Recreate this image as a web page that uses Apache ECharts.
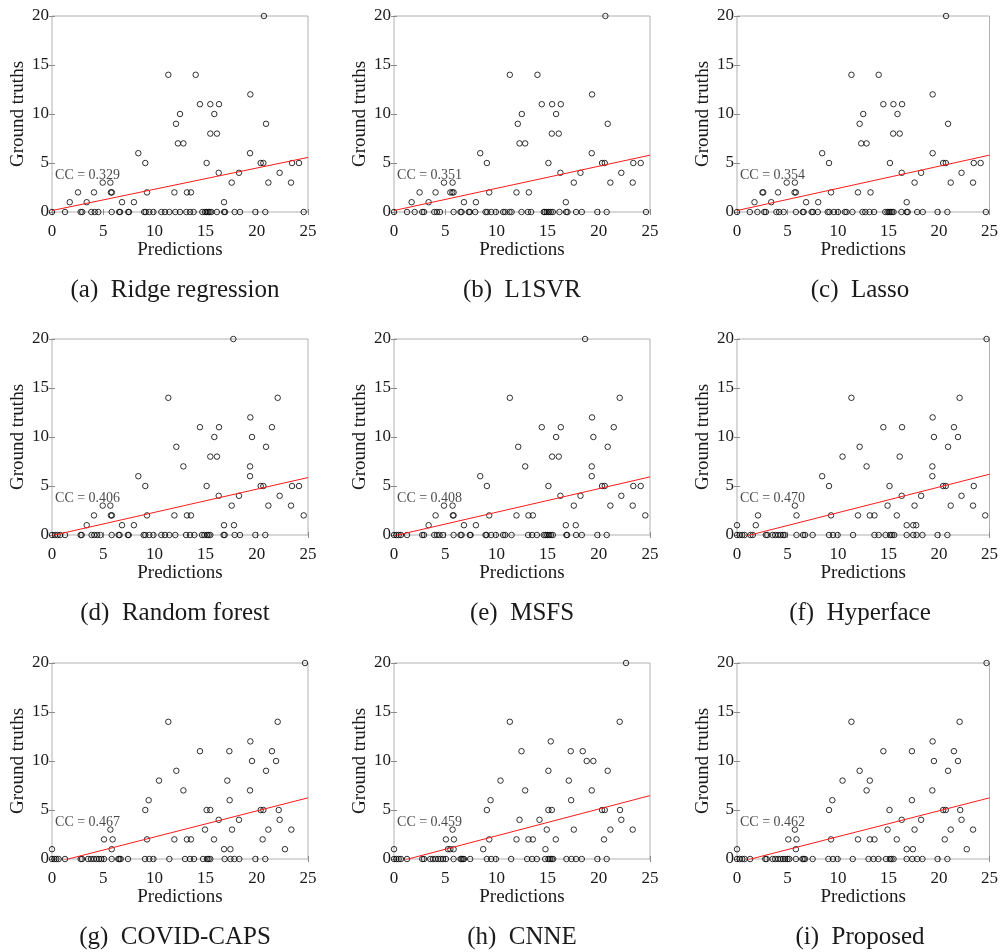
<!DOCTYPE html>
<html>
<head>
<meta charset="utf-8">
<script src="https://cdn.jsdelivr.net/npm/echarts@6/dist/echarts.min.js"></script>
<style>
  html, body { margin: 0; padding: 0; background: #fff; }
  #chart { width: 1001px; height: 952px; }
</style>
</head>
<body>
<div id="chart"></div>
<script>
// [prediction, ground truth] pairs with truth > 0, then the predictions whose truth is 0
const ridgePoints = [[20.7,20],[11.36,14],[14.03,14],[19.37,12],[14.45,11],[15.46,11],[16.31,11],[12.5,10],[15.85,10],[12.11,9],[20.9,9],[15.46,8],[16.11,8],[12.3,7],[12.83,7],[8.43,6],[19.34,6],[9.11,5],[15.1,5],[20.38,5],[20.64,5],[23.44,5],[24.12,5],[16.28,4],[18.26,4],[22.23,4],[4.95,3],[5.7,3],[17.55,3],[21.13,3],[23.34,3],[2.54,2],[4.1,2],[5.75,2],[5.85,2],[9.28,2],[11.95,2],[13.18,2],[13.57,2],[1.73,1],[3.39,1],[6.84,1],[8.0,1],[16.8,1]]
const ridgeZeros = [0,1.27,2.8,2.95,3.84,4.17,4.52,5.83,6.56,6.65,7.45,7.52,9.0,9.15,9.5,9.9,10.68,11.03,11.46,12.04,12.5,13.12,13.48,13.83,14.68,14.94,15.1,15.25,15.4,15.55,16.1,16.8,16.9,17.84,18.36,19.86,20.83,24.58]

const l1svrPoints = [[20.64,20],[11.31,14],[14.01,14],[19.34,12],[14.43,11],[15.44,11],[16.29,11],[12.48,10],[15.83,10],[12.09,9],[20.87,9],[15.41,8],[16.09,8],[12.26,7],[12.81,7],[8.42,6],[19.31,6],[9.07,5],[15.08,5],[20.32,5],[20.58,5],[23.37,5],[24.09,5],[16.25,4],[18.21,4],[22.2,4],[4.88,3],[5.72,3],[17.56,3],[21.13,3],[23.31,3],[2.5,2],[4.06,2],[5.5,2],[5.69,2],[5.82,2],[9.3,2],[11.96,2],[13.17,2],[1.72,1],[3.38,1],[6.83,1],[8.0,1],[16.78,1]]
const l1svrZeros = [0,1.27,2.02,2.76,2.93,3.93,4.19,4.49,5.82,6.5,6.6,7.31,7.41,7.93,8.94,9.1,9.49,9.95,10.66,10.86,11.28,11.48,12.45,13.07,13.39,14.63,14.73,14.92,15.12,15.31,15.51,16.16,16.81,16.94,17.78,18.34,19.86,20.77,24.61]

const lassoPoints = [[20.7,20],[11.33,14],[14.03,14],[19.37,12],[14.49,11],[15.49,11],[16.34,11],[12.5,10],[15.89,10],[12.14,9],[20.9,9],[15.46,8],[16.11,8],[12.3,7],[12.83,7],[8.43,6],[19.37,6],[9.11,5],[15.14,5],[20.41,5],[20.67,5],[23.44,5],[24.12,5],[16.31,4],[18.23,4],[22.23,4],[4.92,3],[5.73,3],[17.58,3],[21.16,3],[23.37,3],[2.52,2],[2.6,2],[4.07,2],[5.7,2],[5.83,2],[9.31,2],[11.98,2],[13.22,2],[1.73,1],[3.39,1],[6.84,1],[8.04,1],[16.8,1]]
const lassoZeros = [0,1.27,2.02,2.7,2.86,3.9,4.17,4.62,5.83,6.51,6.6,7.39,7.52,8.0,8.98,9.15,9.6,10.0,10.68,10.84,11.43,12.43,12.7,13.12,13.57,14.68,14.9,15.05,15.2,15.35,15.5,16.28,16.8,16.9,17.84,18.39,19.86,20.83,24.64]

const forestPoints = [[17.71,20],[11.36,14],[22.04,14],[19.37,12],[14.45,11],[16.31,11],[21.48,11],[15.85,10],[19.53,10],[12.14,9],[20.9,9],[15.46,8],[16.11,8],[12.83,7],[19.34,7],[8.43,6],[19.34,6],[9.11,5],[15.1,5],[20.38,5],[20.64,5],[23.44,5],[24.12,5],[16.28,4],[18.26,4],[22.23,4],[4.95,3],[5.7,3],[17.55,3],[21.13,3],[23.34,3],[4.1,2],[5.75,2],[5.85,2],[9.28,2],[11.95,2],[13.18,2],[13.57,2],[24.58,2],[3.39,1],[6.84,1],[8.0,1],[16.8,1],[17.77,1]]
const forestZeros = [0,0.3,0.55,0.8,1.27,2.8,2.9,3.87,4.13,4.4,4.72,5.83,6.51,6.6,7.42,7.49,8.95,9.11,9.5,9.9,10.68,11.03,11.46,12.04,13.09,13.48,13.9,14.65,14.88,15.14,15.3,15.46,16.76,16.86,17.84,18.36,19.86,20.83]

const msfsPoints = [[18.66,20],[11.31,14],[22.04,14],[19.34,12],[14.43,11],[16.29,11],[21.46,11],[15.83,10],[19.47,10],[12.13,9],[20.87,9],[15.44,8],[16.09,8],[12.81,7],[19.31,7],[8.42,6],[19.31,6],[9.07,5],[15.08,5],[20.32,5],[20.58,5],[23.37,5],[24.09,5],[16.25,4],[18.21,4],[22.2,4],[4.88,3],[5.72,3],[17.56,3],[21.13,3],[23.31,3],[4.06,2],[5.75,2],[5.82,2],[9.3,2],[11.96,2],[13.13,2],[13.56,2],[24.54,2],[3.38,1],[6.83,1],[8.0,1],[16.78,1],[17.75,1]]
const msfsZeros = [0,0.23,0.46,0.68,1.27,2.76,2.93,3.93,4.19,4.45,4.78,5.82,6.5,6.6,7.41,7.48,8.94,9.04,9.49,9.95,10.66,10.86,11.48,13.1,13.49,13.95,14.63,14.79,14.97,15.15,15.33,15.51,16.84,16.9,17.78,18.34,19.86,20.77]

const hyperPoints = [[24.71,20],[11.33,14],[22.04,14],[19.37,12],[14.49,11],[16.34,11],[21.48,11],[19.5,10],[21.88,10],[12.14,9],[20.9,9],[10.45,8],[16.11,8],[12.83,7],[19.34,7],[8.43,6],[19.34,6],[9.11,5],[15.1,5],[20.41,5],[20.67,5],[23.44,5],[16.31,4],[18.23,4],[22.23,4],[5.73,3],[14.91,3],[17.58,3],[21.16,3],[23.37,3],[2.08,2],[5.89,2],[9.31,2],[11.98,2],[13.15,2],[13.61,2],[15.82,2],[24.58,2],[0,1],[1.86,1],[16.8,1],[17.45,1],[17.74,1]]
const hyperZeros = [0,0.26,0.52,0.75,1.33,1.56,2.86,3.0,3.52,3.78,4.07,4.33,4.56,4.72,5.89,6.54,6.74,7.49,9.11,9.5,9.96,11.49,13.61,14.03,14.71,15.17,15.36,15.56,16.8,17.45,17.77,18.36,19.86,20.83]

const capsPoints = [[24.71,20],[11.36,14],[22.04,14],[19.37,12],[14.45,11],[17.32,11],[21.48,11],[19.53,10],[21.88,10],[12.14,9],[20.9,9],[10.45,8],[17.12,8],[12.83,7],[19.34,7],[9.44,6],[17.35,6],[9.11,5],[15.1,5],[15.46,5],[20.38,5],[20.64,5],[22.14,5],[16.28,4],[18.26,4],[22.23,4],[5.7,3],[14.94,3],[17.58,3],[21.13,3],[23.37,3],[5.08,2],[5.92,2],[9.28,2],[11.95,2],[13.18,2],[13.57,2],[15.82,2],[20.57,2],[0,1],[5.83,1],[16.8,1],[17.42,1],[22.75,1]]
const capsZeros = [0,0.23,0.42,0.65,1.27,2.8,2.93,3.52,3.81,4.1,4.36,4.59,4.82,5.08,5.83,6.48,6.58,6.71,7.42,9.08,9.5,9.9,11.46,12.99,13.48,13.87,14.75,15.14,15.3,15.46,16.86,17.42,17.81,18.29,19.86,20.83]

const cnnePoints = [[22.66,20],[11.31,14],[22.04,14],[15.31,12],[12.45,11],[17.26,11],[18.43,11],[18.82,10],[19.47,10],[15.08,9],[20.87,9],[10.4,8],[17.07,8],[12.81,7],[19.31,7],[9.43,6],[17.3,6],[9.07,5],[15.08,5],[15.41,5],[20.32,5],[20.58,5],[22.07,5],[12.26,4],[14.21,4],[22.2,4],[5.72,3],[14.92,3],[17.56,3],[21.13,3],[23.31,3],[5.07,2],[5.85,2],[9.3,2],[11.96,2],[13.13,2],[13.56,2],[15.8,2],[20.51,2],[0,1],[5.27,1],[5.5,1],[5.82,1],[8.71,1],[14.79,1]]
const cnneZeros = [0,0.23,0.46,0.68,1.27,2.76,2.93,3.54,3.8,4.06,4.32,4.55,4.78,5.07,5.82,6.5,6.6,6.73,6.83,7.44,9.07,9.49,9.95,11.44,13.0,13.49,13.95,14.76,15.08,15.24,15.41,15.54,16.84,17.33,17.78,18.34,19.86,20.77]

const proposedPoints = [[24.71,20],[11.33,14],[22.04,14],[19.37,12],[14.49,11],[17.32,11],[21.48,11],[19.5,10],[21.88,10],[12.14,9],[20.9,9],[10.45,8],[13.15,8],[12.83,7],[19.34,7],[9.44,6],[17.32,6],[9.11,5],[15.1,5],[20.41,5],[20.67,5],[22.1,5],[16.31,4],[18.23,4],[22.23,4],[5.73,3],[14.91,3],[17.58,3],[21.16,3],[23.37,3],[5.08,2],[5.89,2],[9.31,2],[11.98,2],[13.15,2],[13.61,2],[15.82,2],[20.57,2],[0,1],[5.83,1],[16.8,1],[17.42,1],[22.75,1]]
const proposedZeros = [0,0.26,0.52,0.75,1.3,2.8,2.93,3.52,3.78,4.07,4.33,4.56,4.76,5.0,5.18,5.83,6.48,6.61,6.74,7.49,9.05,9.5,9.96,11.46,13.02,13.51,14.0,14.75,15.14,15.3,15.5,16.8,17.35,17.84,18.36,19.86,20.83]

const panelPoints = [ridgePoints, l1svrPoints, lassoPoints, forestPoints, msfsPoints, hyperPoints, capsPoints, cnnePoints, proposedPoints]
const panelZeros = [ridgeZeros, l1svrZeros, lassoZeros, forestZeros, msfsZeros, hyperZeros, capsZeros, cnneZeros, proposedZeros]
const captions = ['(a)  Ridge regression', '(b)  L1SVR', '(c)  Lasso', '(d)  Random forest', '(e)  MSFS', '(f)  Hyperface', '(g)  COVID-CAPS', '(h)  CNNE', '(i)  Proposed']
const ccValues = ['0.329', '0.351', '0.354', '0.406', '0.408', '0.470', '0.467', '0.459', '0.462']
// fitted line: ground truth value at prediction 0 and at prediction 25
const fitAtZero = [0.15, 0.15, 0.15, -0.06, -0.09, -0.34, -0.42, -0.38, -0.36]
const fitAtMax = [5.57, 5.8, 5.8, 5.86, 5.93, 6.2, 6.24, 6.47, 6.24]
const xTicks = [0, 25, 5]
const yTicks = [0, 20, 5]

const colLeft = [52, 394, 737]
const rowTop = [16, 339, 663]
const captionX = [175, 522, 860]
const FONT = '"Liberation Serif", "Times New Roman", serif'
const INK = '#1a1a1a'

const chart = echarts.init(document.getElementById('chart'))
const grid = [], xAxis = [], yAxis = [], series = [], graphic = []

panelPoints.forEach((pts, i) => {
  const col = i % 3
  const row = Math.floor(i / 3)
  grid.push({
    left: colLeft[col], top: rowTop[row], width: 256, height: 196,
    show: true, borderColor: '#b0b0b0', borderWidth: 1, backgroundColor: '#fff',
  })
  const tick = { inside: true, length: 3, lineStyle: { color: '#8c8c8c', width: 1 } }
  xAxis.push({
    gridIndex: i, type: 'value', min: xTicks[0], max: xTicks[1], interval: xTicks[2],
    name: 'Predictions', nameLocation: 'middle', nameGap: 29,
    nameTextStyle: { fontFamily: FONT, fontSize: 19, color: INK },
    axisLine: { show: false }, axisTick: tick, splitLine: { show: false },
    axisLabel: { fontFamily: FONT, fontSize: 17, color: INK, margin: 11 },
  })
  xAxis.push({
    gridIndex: i, type: 'value', position: 'top', min: xTicks[0], max: xTicks[1], interval: xTicks[2],
    axisLine: { show: false }, axisTick: tick, splitLine: { show: false }, axisLabel: { show: false },
  })
  yAxis.push({
    gridIndex: i, type: 'value', min: yTicks[0], max: yTicks[1], interval: yTicks[2],
    name: 'Ground truths', nameLocation: 'middle', nameGap: 24,
    nameTextStyle: { fontFamily: FONT, fontSize: 19, color: INK },
    axisLine: { show: false }, axisTick: tick, splitLine: { show: false },
    axisLabel: { fontFamily: FONT, fontSize: 17, color: INK, margin: 3 },
  })
  yAxis.push({
    gridIndex: i, type: 'value', position: 'right', min: yTicks[0], max: yTicks[1], interval: yTicks[2],
    axisLine: { show: false }, axisTick: tick, splitLine: { show: false }, axisLabel: { show: false },
  })
  series.push({
    type: 'line', xAxisIndex: 2 * i, yAxisIndex: 2 * i,
    data: [[xTicks[0], fitAtZero[i]], [xTicks[1], fitAtMax[i]]],
    symbol: 'none', clip: true, silent: true,
    lineStyle: { color: '#ff1a1a', width: 1 },
  })
  series.push({
    type: 'scatter', xAxisIndex: 2 * i, yAxisIndex: 2 * i,
    data: pts.concat(panelZeros[i].map((x) => [x, 0])),
    symbol: 'circle', symbolSize: 5.5, clip: false, silent: true,
    itemStyle: { color: 'rgba(0,0,0,0)', borderColor: '#000', borderWidth: 1 },
  })
  series.push({
    type: 'scatter', xAxisIndex: 2 * i, yAxisIndex: 2 * i,
    data: [[0.2, 3.75]], symbolSize: 0, silent: true,
    label: {
      show: true, position: 'right', distance: 1, formatter: 'CC = ' + ccValues[i],
      fontFamily: FONT, fontSize: 14, color: INK,
    },
  })
  graphic.push({
    type: 'text', x: captionX[col], y: rowTop[row] + 274,
    style: {
      text: captions[i], font: '25px ' + FONT, fill: INK,
      align: 'center', verticalAlign: 'middle', textAlign: 'center', textVerticalAlign: 'middle',
    },
  })
})

chart.setOption({ animation: false, grid, xAxis, yAxis, series, graphic })
</script>
</body>
</html>
